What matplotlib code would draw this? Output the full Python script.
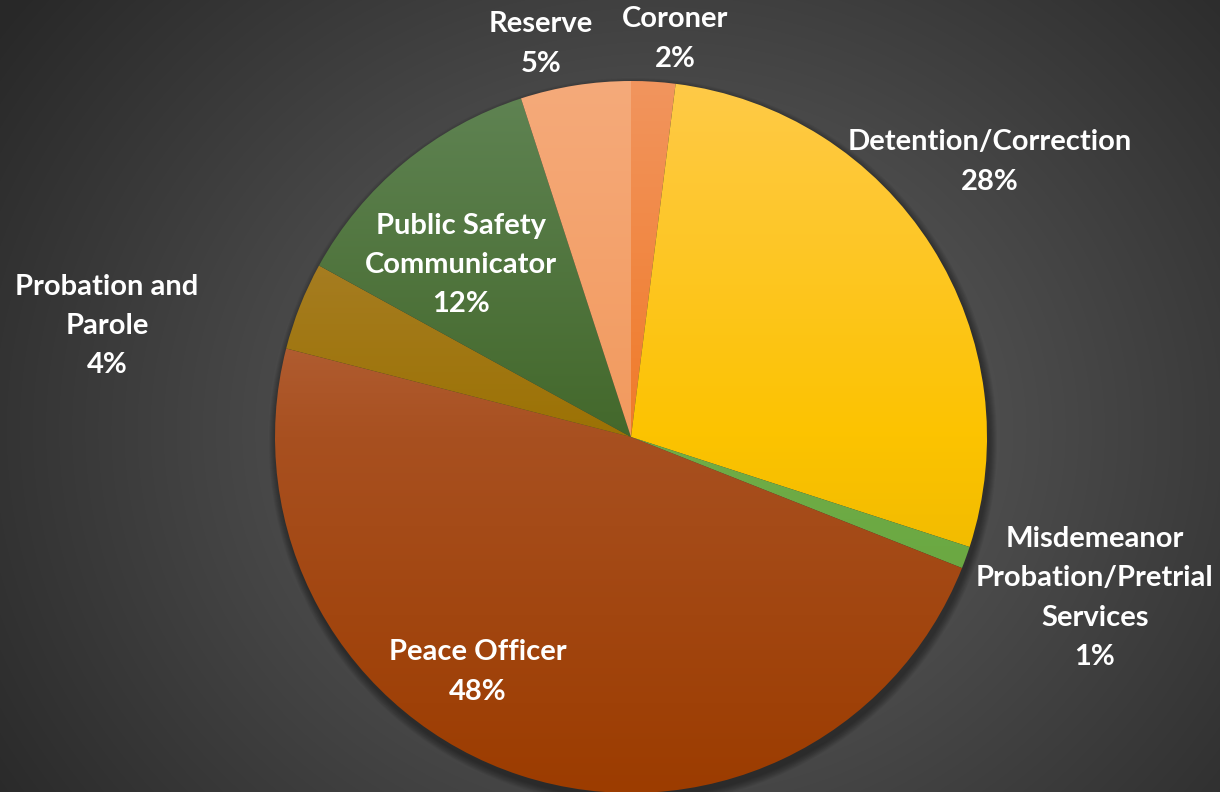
import numpy as np
import matplotlib
matplotlib.use("Agg")
import matplotlib.pyplot as plt
from matplotlib.colors import to_rgb
from matplotlib.patches import Circle

# data
categories = ["Coroner", "Detention/Correction",
              "Misdemeanor\nProbation/Pretrial\nServices", "Peace Officer",
              "Probation and\nParole", "Public Safety\nCommunicator", "Reserve"]
shares = [2, 28, 1, 48, 4, 12, 5]

# gradient stops of each slice: top of pie, centre, bottom of pie
top_colors = ["#F2955E", "#FFCA48", "#84BC5E", "#C88060", "#B08840", "#608454", "#F5AA7A"]
mid_colors = ["#F07A28", "#FCC300", "#70AD47", "#A85020", "#9C7204", "#43682B", "#F29A5E"]
bottom_colors = ["#E2701E", "#DCAC00", "#62A03A", "#9C3C00", "#8C6400", "#3A5E1E", "#EC8C4C"]

# label anchor points (pixels)
label_pos = [(675, 39), (990, 162), (1095, 598), (478, 672), (107, 326), (461, 265), (541, 44)]

W, H = 1220, 792
fig = plt.figure(figsize=(W / 100, H / 100), dpi=100)
ax = fig.add_axes([0, 0, 1, 1])

# radial background
yy, xx = np.mgrid[0:H, 0:W]
d = np.sqrt(((xx - 660) / 800.0) ** 2 + ((yy - 430) / 700.0) ** 2)
d = np.clip(d, 0, 1)
c0, c1 = 0.40, 0.16
bg = c0 + (c1 - c0) * d
ax.imshow(np.dstack([bg, bg, bg]), extent=(0, W, H, 0), zorder=0, interpolation="bilinear")

cx, cy, r = 631, 437, 356

# soft shadow
for k in range(8):
    ax.add_patch(Circle((cx + 2, cy + 5), r + 8 - k, color="black", alpha=0.05, lw=0, zorder=1))

# y axis points down, so start at -90 and go counter-clockwise in data space
wedges, _ = ax.pie(shares, startangle=-90, counterclock=True, center=(cx, cy),
                   radius=r, frame=True, wedgeprops=dict(linewidth=0))

t = np.linspace(0, 1, 512)
for w, ct, cm, cb in zip(wedges, top_colors, mid_colors, bottom_colors):
    stops = np.array([to_rgb(ct), to_rgb(cm), to_rgb(cb)])
    grad = np.stack([np.interp(t, [0, 0.5, 1], stops[:, i]) for i in range(3)], axis=1)
    img = np.repeat(grad[:, None, :], 2, axis=1)
    im = ax.imshow(img, extent=(cx - r, cx + r, cy + r, cy - r), zorder=2,
                   interpolation="bilinear", aspect="auto")
    w.set_facecolor("none")
    im.set_clip_path(w)

ax.set_xlim(0, W)
ax.set_ylim(H, 0)
ax.set_aspect("auto")
ax.axis("off")

for lab, s, (x, y) in zip(categories, shares, label_pos):
    ax.text(x, y, f"{lab}\n{s}%", ha="center", va="center", color="white",
            fontsize=21, fontweight="bold", family=["Lato", "DejaVu Sans"],
            linespacing=1.63, zorder=5)

fig.savefig("out.png", dpi=100)
